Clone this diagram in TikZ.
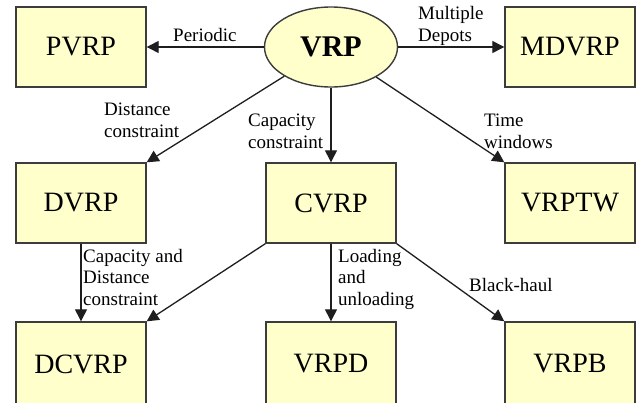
\documentclass[tikz,border=0pt]{standalone}
\usepackage{fontspec}
\setmainfont{Liberation Serif}
\usetikzlibrary{arrows.meta,shapes.geometric}
\definecolor{boxfill}{RGB}{255,255,204}
\definecolor{boxline}{RGB}{60,60,60}
\definecolor{arrowcol}{RGB}{30,30,30}
\begin{document}
\begin{tikzpicture}[x=1pt,y=-1pt,
  box/.style={draw=boxline, fill=boxfill, line width=1.4pt, minimum width=130pt, minimum height=80pt, inner sep=0pt, font=\fontsize{28}{30}\selectfont},
  rootnode/.style={ellipse, draw=boxline, fill=boxfill, line width=1.4pt, minimum width=133pt, minimum height=80pt, inner sep=0pt, font=\bfseries\fontsize{30}{32}\selectfont},
  link/.style={draw=arrowcol, line width=1.3pt, -{Triangle[length=12pt,width=12pt]}},
  lab/.style={font=\fontsize{19}{21.5}\selectfont, align=left, inner sep=0pt, anchor=base west}]
\clip (0,0) rectangle (637,402);
\useasboundingbox (0,0) rectangle (637,402);
\fill[white] (0,0) rectangle (637,402);
% nodes
\node[rootnode] (vrp) at (331,47) {VRP};
\node[box] (pvrp) at (81,47) {PVRP};
\node[box] (mdvrp) at (570,47) {MDVRP};
\node[box] (dvrp) at (81,203) {DVRP};
\node[box] (cvrp) at (331,203) {CVRP};
\node[box] (vrptw) at (570,203) {VRPTW};
\node[box, minimum height=84pt] (dcvrp) at (81,364) {DCVRP};
\node[box, minimum height=84pt] (vrpd) at (331,364) {VRPD};
\node[box, minimum height=84pt] (vrpb) at (570,364) {VRPB};
% connectors
\draw[link] (vrp) -- (pvrp);
\draw[link] (vrp) -- (mdvrp);
\draw[link] (vrp) -- (dvrp.north east);
\draw[link] (vrp) -- (cvrp);
\draw[link] (vrp) -- (vrptw.north west);
\draw[link] (dvrp) -- (dcvrp);
\draw[link] (cvrp.south west) -- (dcvrp.north east);
\draw[link] (cvrp) -- (vrpd);
\draw[link] (cvrp.south east) -- (vrpb.north west);
% labels (base anchor = baseline of last line)
\node[lab] (lp) at (173,41) {Periodic};
\node[lab] (lm) at (418,41) {Multiple\\Depots};
\node[lab] (ld) at (104,137) {Distance\\constraint};
\node[lab] (lc) at (248,148) {Capacity\\constraint};
\node[lab] (lt) at (484,148) {Time\\windows};
\node[lab] (lcd) at (83,305) {Capacity and\\Distance\\constraint};
\node[lab] (ll) at (338,305) {Loading\\and\\unloading};
\node[lab] (lb) at (469,291) {Black-haul};
\end{tikzpicture}
\end{document}
